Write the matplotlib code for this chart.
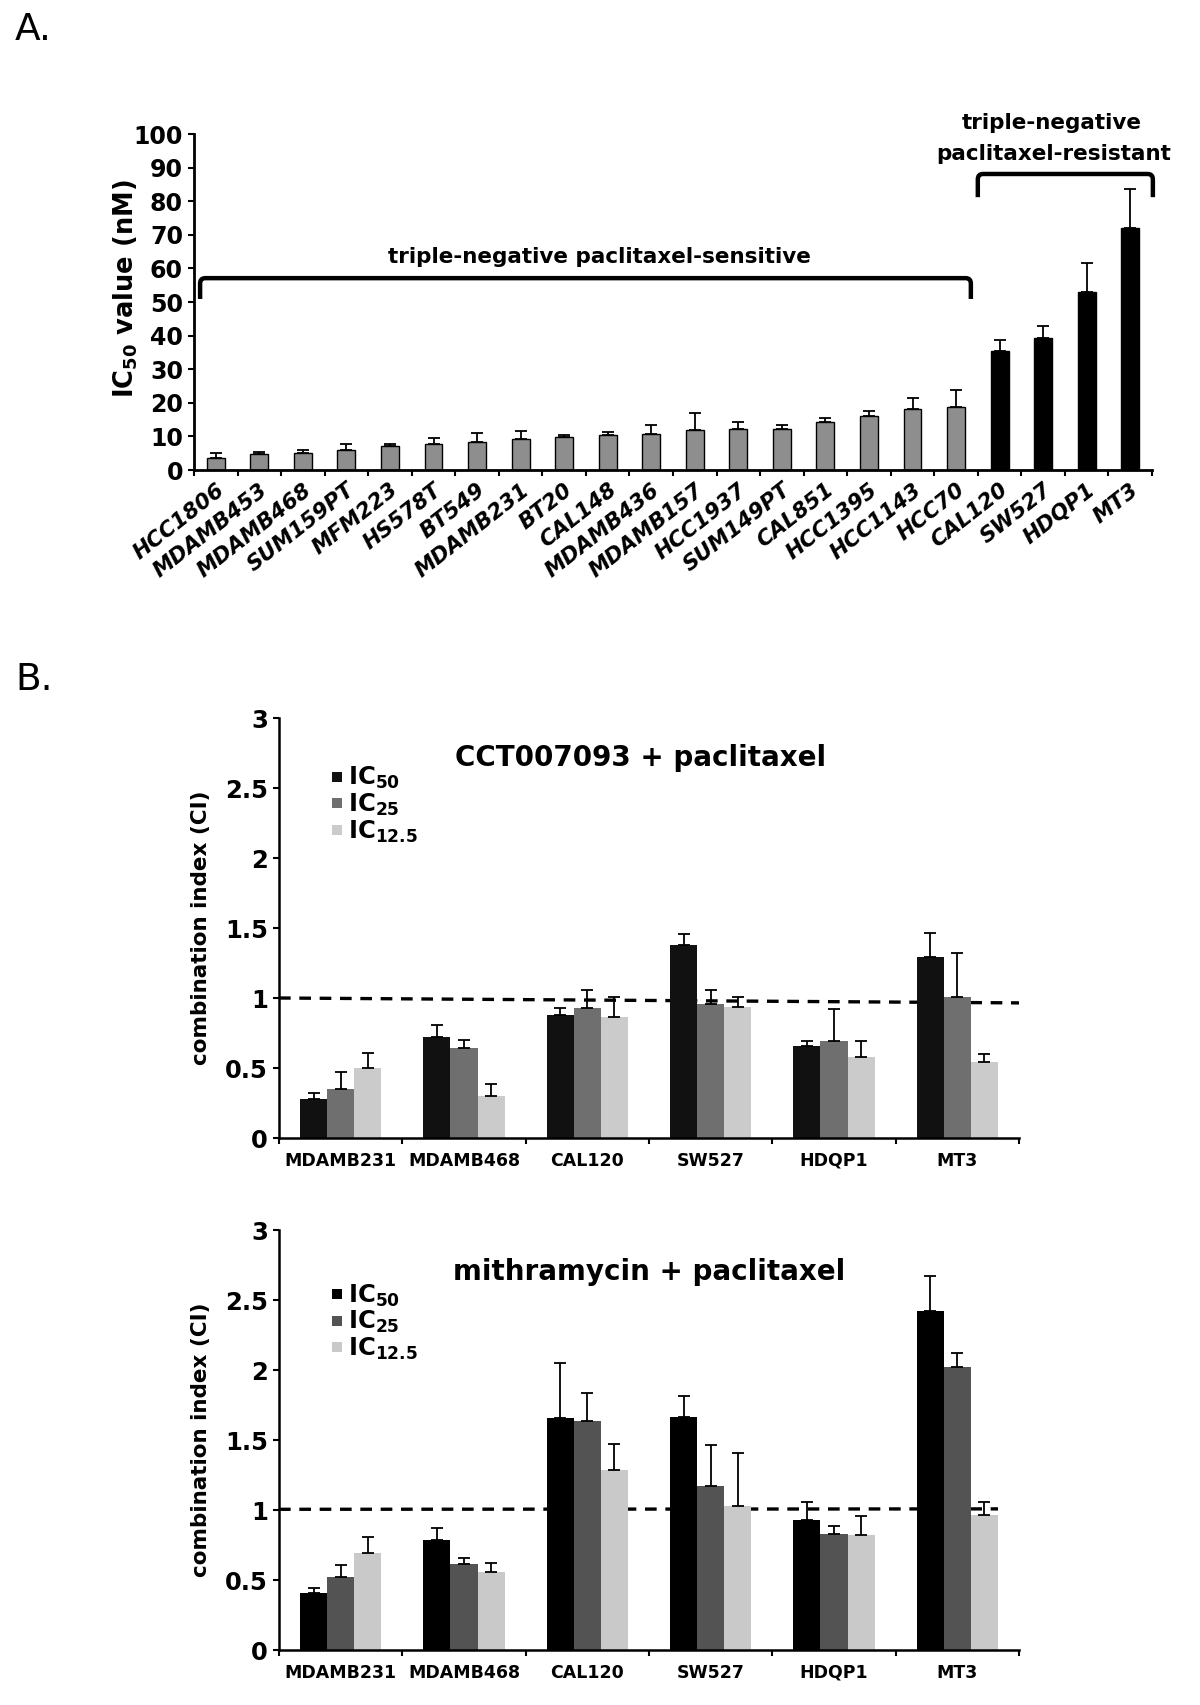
import numpy as np
import matplotlib.pyplot as plt
from matplotlib.path import Path
from matplotlib.patches import PathPatch
from matplotlib.lines import Line2D

plt.rcParams['font.family'] = 'DejaVu Sans'
plt.rcParams['mathtext.fontset'] = 'dejavusans'

# ---- panel A data: paclitaxel IC50 per cell line (nM)
cell_lines = ['HCC1806', 'MDAMB453', 'MDAMB468', 'SUM159PT', 'MFM223', 'HS578T',
              'BT549', 'MDAMB231', 'BT20', 'CAL148', 'MDAMB436', 'MDAMB157',
              'HCC1937', 'SUM149PT', 'CAL851', 'HCC1395', 'HCC1143', 'HCC70',
              'CAL120', 'SW527', 'HDQP1', 'MT3']
ic50_nm = [3.7, 4.9, 5.2, 5.9, 7.1, 7.6, 8.3, 9.2, 9.7, 10.3, 10.7, 12.0,
           12.3, 12.3, 14.3, 16.1, 18.3, 18.8, 35.4, 39.4, 53.1, 71.9]
ic50_err = [1.5, 0.6, 0.9, 1.7, 0.7, 2.0, 2.7, 2.3, 0.8, 1.1, 2.6, 5.0,
            1.9, 1.2, 1.3, 1.6, 3.0, 4.9, 3.2, 3.5, 8.4, 11.8]
resistant = ['CAL120', 'SW527', 'HDQP1', 'MT3']

# ---- panel B data: combination index
groups = ['MDAMB231', 'MDAMB468', 'CAL120', 'SW527', 'HDQP1', 'MT3']
dose_labels = [r'IC$_{\mathbf{50}}$', r'IC$_{\mathbf{25}}$', r'IC$_{\mathbf{12.5}}$']

cct_ic50 = [0.28, 0.72, 0.88, 1.38, 0.66, 1.29]
cct_ic50_err = [0.045, 0.09, 0.05, 0.075, 0.035, 0.175]
cct_ic25 = [0.35, 0.64, 0.93, 0.96, 0.69, 1.01]
cct_ic25_err = [0.125, 0.06, 0.125, 0.095, 0.23, 0.31]
cct_ic125 = [0.50, 0.30, 0.865, 0.935, 0.58, 0.545]
cct_ic125_err = [0.11, 0.085, 0.145, 0.075, 0.115, 0.055]
cct_line = [1.0, 0.965]

mith_ic50 = [0.41, 0.785, 1.655, 1.665, 0.93, 2.42]
mith_ic50_err = [0.03, 0.09, 0.395, 0.15, 0.13, 0.25]
mith_ic25 = [0.52, 0.615, 1.635, 1.175, 0.83, 2.02]
mith_ic25_err = [0.09, 0.04, 0.20, 0.29, 0.055, 0.10]
mith_ic125 = [0.69, 0.56, 1.285, 1.03, 0.825, 0.965]
mith_ic125_err = [0.115, 0.065, 0.185, 0.375, 0.135, 0.095]
mith_line = [1.005, 1.008]

yticks_b = [0, 0.5, 1, 1.5, 2, 2.5, 3]
yticklabels_b = ['0', '0.5', '1', '1.5', '2', '2.5', '3']

# -------------------------------------------------------------------------
W, H = 1200, 1705
fig = plt.figure(figsize=(W / 100, H / 100), dpi=100)


def box(x0, y0, x1, y1):
    # pixel box (top-left origin) -> figure fraction rect
    return [x0 / W, 1 - y1 / H, (x1 - x0) / W, (y1 - y0) / H]


def bracket(ax, x0, x1, ytop, yend, rx, ry):
    verts = [(x0, yend), (x0, ytop - ry), (x0, ytop), (x0 + rx, ytop),
             (x1 - rx, ytop), (x1, ytop), (x1, ytop - ry), (x1, yend)]
    codes = [Path.MOVETO, Path.LINETO, Path.CURVE3, Path.CURVE3,
             Path.LINETO, Path.CURVE3, Path.CURVE3, Path.LINETO]
    ax.add_patch(PathPatch(Path(verts, codes), fill=False, lw=3.2,
                           edgecolor='black', capstyle='butt', clip_on=False))


#---------------- panel A
axA = fig.add_axes(box(194, 134, 1152, 470))
x = np.arange(len(cell_lines))
cols = ['black' if c in resistant else '#8e8e8e' for c in cell_lines]
axA.bar(x, ic50_nm, width=0.41, color=cols, edgecolor='black', linewidth=1.0, zorder=2)
axA.errorbar(x, ic50_nm, yerr=[np.zeros(len(x)), ic50_err], fmt='none', ecolor='black',
             elinewidth=1.3, capsize=4, capthick=1.3, zorder=3)
axA.set_xlim(-0.5, len(x) - 0.5)
axA.set_ylim(0, 100)
axA.set_yticks(np.arange(0, 101, 10))
axA.set_xticks(x)
axA.set_xticklabels(cell_lines, rotation=38, ha='right', va='top', rotation_mode='anchor',
                    fontsize=15.5, fontweight='bold', fontstyle='italic')
axA.set_xticks(np.arange(-0.5, len(x)), minor=True)
axA.tick_params(axis='x', which='major', length=0, pad=7)
axA.tick_params(axis='x', which='minor', length=4, width=1.5)
axA.tick_params(axis='y', length=4, width=1.5, pad=4, labelsize=17)
for lab in axA.get_yticklabels():
    lab.set_fontweight('bold')
for s in ['top', 'right']:
    axA.spines[s].set_visible(False)
for s in ['left', 'bottom']:
    axA.spines[s].set_linewidth(2.0)
axA.set_ylabel(r'IC$_{\mathbf{50}}$ value (nM)', fontsize=18.5, fontweight='bold')
axA.yaxis.set_label_coords(-0.056, 0.54)

bracket(axA, -0.36, 17.34, 57.1, 50.9, 0.12, 1.6)
bracket(axA, 17.5, 21.52, 88.1, 81.2, 0.12, 1.6)
axA.text(8.8, 63.4, 'triple-negative paclitaxel-sensitive', ha='center', va='center',
         fontsize=15.5, fontweight='bold')
axA.text(19.2, 103.3, 'triple-negative', ha='center', va='center',
         fontsize=15.5, fontweight='bold')
axA.text(19.25, 94.0, 'paclitaxel-resistant', ha='center', va='center',
         fontsize=15.5, fontweight='bold')


#---------------- panel B
def ci_panel(rect, title, vals, errs, colors, line_y, line_x, title_xy, leg_xy):
    ax = fig.add_axes(rect)
    xg = np.arange(len(groups))
    w = 0.22
    for k, (v, e, c) in enumerate(zip(vals, errs, colors)):
        pos = xg + (k - 1) * w
        ax.bar(pos, v, width=w, color=c, linewidth=0, zorder=2)
        ax.errorbar(pos, v, yerr=[np.zeros(len(v)), e], fmt='none', ecolor='black',
                    elinewidth=1.3, capsize=4, capthick=1.3, zorder=3)
    ax.plot(line_x, line_y, color='black', lw=2.4, dashes=(3.5, 2.6), zorder=1,
            clip_on=False)
    ax.set_xlim(-0.5, len(groups) - 0.5)
    ax.set_ylim(0, 3)
    ax.set_yticks(yticks_b)
    ax.set_yticklabels(yticklabels_b, fontsize=17.5, fontweight='bold')
    ax.set_xticks(xg)
    ax.set_xticklabels(groups, fontsize=12.5, fontweight='bold')
    ax.set_xticks(np.arange(-0.5, len(groups)), minor=True)
    ax.tick_params(axis='x', which='major', length=0, pad=10)
    ax.tick_params(axis='x', which='minor', length=4, width=1.5)
    ax.tick_params(axis='y', length=4, width=1.5, pad=4)
    for s in ['top', 'right']:
        ax.spines[s].set_visible(False)
    for s in ['left', 'bottom']:
        ax.spines[s].set_linewidth(1.8)
    ax.set_ylabel('combination index (CI)', fontsize=15.5, fontweight='bold')
    ax.yaxis.set_label_coords(-0.092, 0.5)
    ax.text(title_xy[0], title_xy[1], title, transform=ax.transAxes, ha='center',
            va='center', fontsize=20, fontweight='bold')
    handles = [Line2D([], [], ls='none', marker='s', markersize=7, color=c,
                      markeredgewidth=0) for c in colors]
    ax.legend(handles, dose_labels, loc='upper left', bbox_to_anchor=leg_xy,
              frameon=False, handlelength=0.6, handletextpad=0.15,
              labelspacing=0.02, borderpad=0, borderaxespad=0,
              prop={'size': 17.5, 'weight': 'bold'})
    return ax


ci_panel(box(279, 718, 1019, 1138), 'CCT007093 + paclitaxel',
         [cct_ic50, cct_ic25, cct_ic125], [cct_ic50_err, cct_ic25_err, cct_ic125_err],
         ['#111111', '#6f6f6f', '#cbcbcb'], cct_line, [-0.5, 5.5],
         (0.489, 0.905), (0.068, 0.888))
ci_panel(box(279, 1230, 1019, 1650), 'mithramycin + paclitaxel',
         [mith_ic50, mith_ic25, mith_ic125], [mith_ic50_err, mith_ic25_err, mith_ic125_err],
         ['#000000', '#535353', '#c9c9c9'], mith_line, [-0.5, 5.33],
         (0.5, 0.9), (0.068, 0.875))

fig.text(15 / W, 1 - 12 / H, 'A.', ha='left', va='top', fontsize=27)
fig.text(15 / W, 1 - 662 / H, 'B.', ha='left', va='top', fontsize=27)

fig.savefig('out.png', dpi=100)
